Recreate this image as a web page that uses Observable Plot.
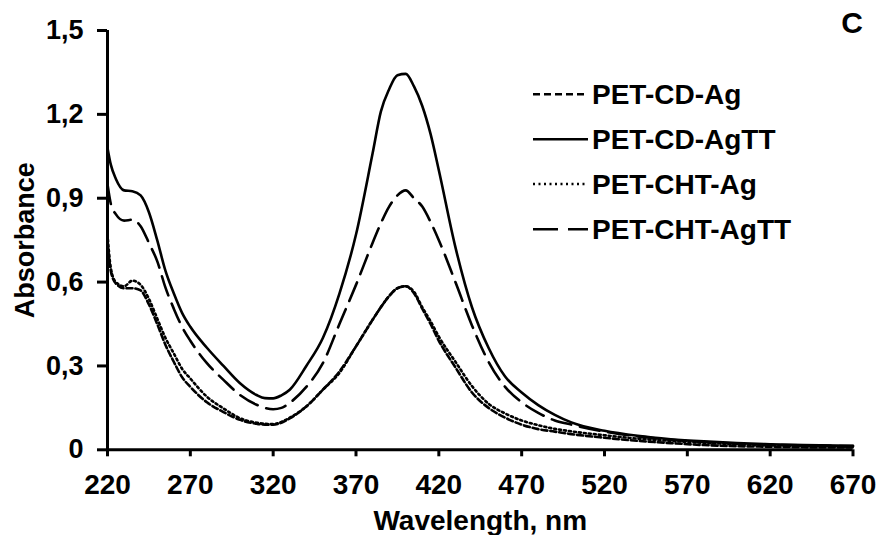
<!DOCTYPE html>
<html>
<head>
<meta charset="utf-8">
<script src="https://cdn.jsdelivr.net/npm/d3@7"></script>
<script src="https://cdn.jsdelivr.net/npm/@observablehq/plot@0.6"></script>
<style>
  html, body { margin: 0; padding: 0; background: #fff; }
  #chart { width: 876px; height: 535px; }
  svg { font-family: "Liberation Sans", Arial, sans-serif; }
</style>
</head>
<body>
<div id="chart"></div>
<script>
// Wavelength grid (nm)
const wavelengths = [220, 222, 225, 230, 235, 240, 245, 250, 255, 260, 265, 270, 280, 290, 300, 310, 315, 320, 325, 330, 340, 350, 360, 370, 380, 385, 390, 395, 400, 405, 410, 415, 420, 430, 440, 450, 460, 470, 480, 490, 500, 520, 540, 560, 580, 600, 620, 640, 660, 670];

// Absorbance values per series
const petCdAg    = [0.74, 0.64, 0.595, 0.578, 0.578, 0.57, 0.52, 0.45, 0.375, 0.315, 0.26, 0.225, 0.17, 0.135, 0.107, 0.093, 0.09, 0.09, 0.097, 0.112, 0.155, 0.215, 0.28, 0.37, 0.465, 0.51, 0.55, 0.578, 0.585, 0.56, 0.505, 0.45, 0.39, 0.295, 0.205, 0.15, 0.115, 0.09, 0.074, 0.065, 0.056, 0.043, 0.032, 0.024, 0.017, 0.013, 0.011, 0.009, 0.008, 0.008];
const petCdAgTT  = [1.08, 1.02, 0.97, 0.928, 0.925, 0.91, 0.85, 0.75, 0.64, 0.56, 0.49, 0.44, 0.365, 0.30, 0.238, 0.196, 0.185, 0.184, 0.195, 0.215, 0.30, 0.40, 0.559, 0.77, 1.06, 1.21, 1.29, 1.34, 1.345, 1.30, 1.23, 1.13, 1.00, 0.725, 0.51, 0.365, 0.262, 0.205, 0.16, 0.125, 0.098, 0.068, 0.05, 0.038, 0.03, 0.024, 0.02, 0.017, 0.015, 0.014];
const petChtAg   = [0.77, 0.65, 0.60, 0.585, 0.605, 0.59, 0.54, 0.47, 0.40, 0.345, 0.29, 0.255, 0.19, 0.148, 0.113, 0.097, 0.093, 0.092, 0.10, 0.115, 0.155, 0.215, 0.275, 0.37, 0.465, 0.51, 0.55, 0.578, 0.585, 0.565, 0.51, 0.46, 0.405, 0.315, 0.228, 0.165, 0.13, 0.105, 0.088, 0.075, 0.066, 0.052, 0.04, 0.032, 0.025, 0.02, 0.017, 0.014, 0.012, 0.011];
const petChtAgTT = [0.95, 0.88, 0.843, 0.82, 0.823, 0.80, 0.74, 0.675, 0.58, 0.505, 0.44, 0.39, 0.31, 0.25, 0.196, 0.161, 0.15, 0.145, 0.15, 0.168, 0.225, 0.31, 0.45, 0.59, 0.74, 0.81, 0.87, 0.91, 0.928, 0.90, 0.87, 0.815, 0.75, 0.60, 0.445, 0.315, 0.225, 0.17, 0.132, 0.105, 0.09, 0.065, 0.048, 0.036, 0.028, 0.022, 0.018, 0.016, 0.014, 0.013];

const seriesNames = ["PET-CD-Ag", "PET-CD-AgTT", "PET-CHT-Ag", "PET-CHT-AgTT"];
const seriesValues = [petCdAg, petCdAgTT, petChtAg, petChtAgTT];
const seriesDash = ["6,3", null, "2,3", "20,9"];

const xTicks = [220, 270, 320, 370, 420, 470, 520, 570, 620, 670];
const yTicks = [0, 0.3, 0.6, 0.9, 1.2, 1.5];
const xLabel = "Wavelength, nm";
const yLabel = "Absorbance";
const panelLabel = "C";

const tables = seriesValues.map((vals, i) =>
  wavelengths.map((w, j) => ({series: seriesNames[i], wavelength: w, absorbance: vals[j]}))
);

const fmt = d => d === 0 ? "0" : d.toFixed(1).replace(".", ",");

const plot = Plot.plot({
  width: 876,
  height: 535,
  marginLeft: 107,
  marginRight: 23.5,
  marginTop: 30,
  marginBottom: 85.7,
  style: {fontFamily: "'Liberation Sans', Arial, sans-serif", color: "#000", background: "#fff"},
  x: {domain: [220, 670]},
  y: {domain: [0, 1.5]},
  marks: [
    Plot.axisX({ticks: xTicks, tickFormat: d => String(d), tickSize: 7, tickPadding: 17, fontSize: 28, fontWeight: "bold", strokeWidth: 3, label: xLabel, labelAnchor: "center", labelOffset: 80, labelArrow: "none"}),
    Plot.axisY({ticks: yTicks, tickFormat: fmt, tickSize: 10, tickPadding: 14, fontSize: 27, fontWeight: "bold", strokeWidth: 3, label: yLabel, labelAnchor: "center", labelOffset: 93, labelArrow: "none"}),
    ...tables.map((t, i) => Plot.line(t, {
      x: "wavelength", y: "absorbance",
      stroke: "#000", strokeWidth: 2.6,
      strokeDasharray: seriesDash[i] || undefined,
      curve: "monotone-x"
    })),
    Plot.ruleY([0], {strokeWidth: 3}),
    Plot.ruleX([220], {strokeWidth: 3}),
    Plot.text([panelLabel], {frameAnchor: "top-right", dx: 10, dy: -7, fontSize: 30, fontWeight: "bold", textAnchor: "end", lineAnchor: "middle", fill: "#000"})
  ]
});

document.getElementById("chart").appendChild(plot);

// Legend
const svg = d3.select(plot);
const legendRowsY = [94.3, 139.3, 184, 229.3];
const lg = svg.append("g").attr("class", "legend").attr("text-anchor", "start");
seriesNames.forEach((name, i) => {
  const row = lg.append("g").attr("transform", `translate(0,${legendRowsY[i]})`);
  const legendDash = ["7,4", null, "2,3.5", "25,10"][i];
  row.append("line")
    .attr("x1", 533).attr("x2", 588).attr("y1", 0).attr("y2", 0)
    .attr("stroke", "#000").attr("stroke-width", 2.6)
    .attr("stroke-dasharray", legendDash);
  row.append("text")
    .attr("x", 592).attr("y", 0).attr("dy", "0.35em")
    .attr("text-anchor", "start")
    .attr("font-size", 28).attr("font-weight", "bold").attr("fill", "#000")
    .text(name);
});
</script>
</body>
</html>
